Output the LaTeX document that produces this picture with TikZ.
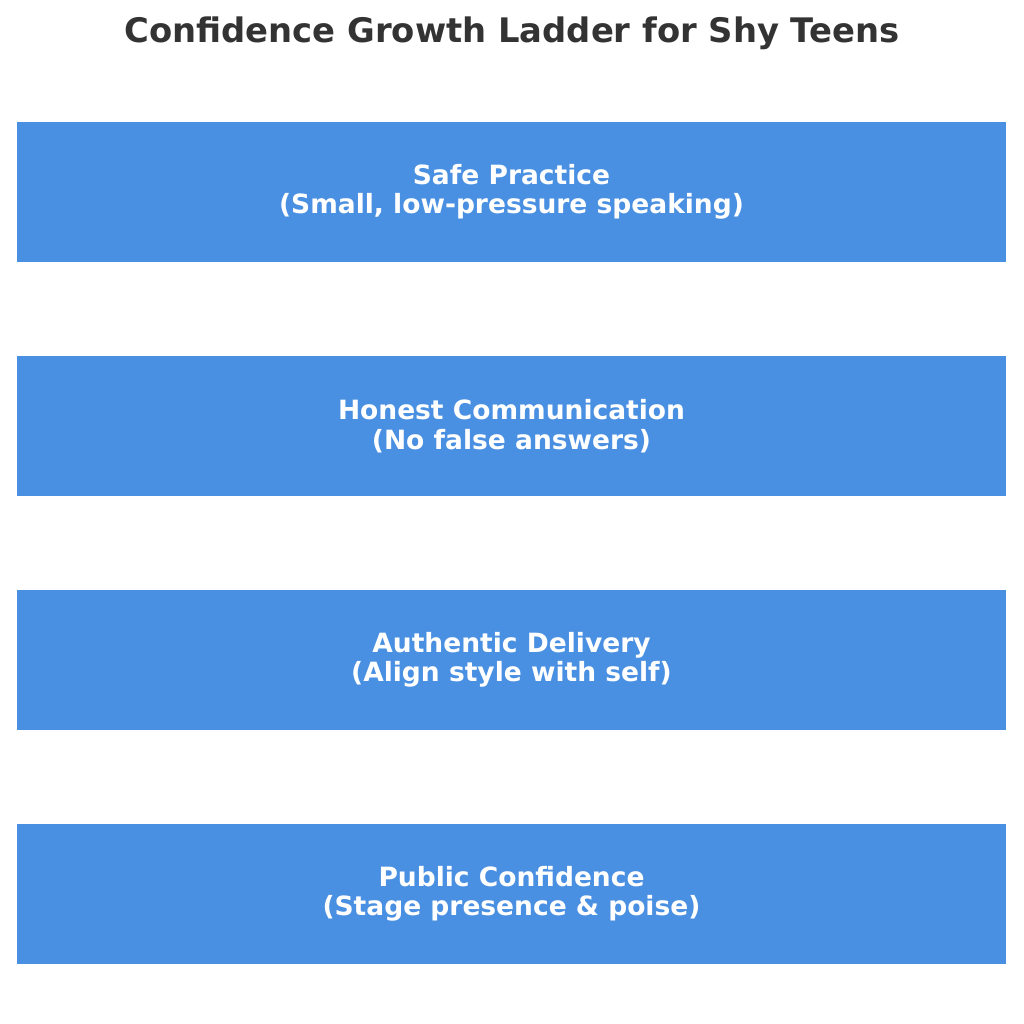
\documentclass[tikz,border=0pt]{standalone}
\usepackage{fontspec}
\setmainfont{DejaVu Sans}
\usepackage{xcolor}
\usepackage{tikz}
\usetikzlibrary{positioning}

\definecolor{rungblue}{HTML}{4A90E2}
\definecolor{titlegray}{HTML}{333333}

\begin{document}
\begin{tikzpicture}[x=1pt, y=-1pt]
  % Fix the page to the reference size
  \useasboundingbox (0,0) rectangle (1024,1024);

  % Set the node style
  \tikzset{rungnode/.style={rectangle, fill=rungblue, text=white, minimum width=989pt, minimum height=140pt, inner sep=0pt, align=center, font=\fontsize{26.5}{29.5}\selectfont\bfseries}}

  % Title
  \node[text=titlegray, font=\fontsize{33.8}{40}\selectfont\bfseries] (title) at (512,33) {Confidence Growth Ladder for Shy Teens};

  % Draw the ladder rungs
  \foreach \i/\rung in {0/{Safe Practice\\(Small, low-pressure speaking)},1/{Honest Communication\\(No false answers)},2/{Authentic Delivery\\(Align style with self)},3/{Public Confidence\\(Stage presence \& poise)}}{
    \node[rungnode] (rung\i) at (511.5,192+\i*234) {\rung};
  }
\end{tikzpicture}
\end{document}
